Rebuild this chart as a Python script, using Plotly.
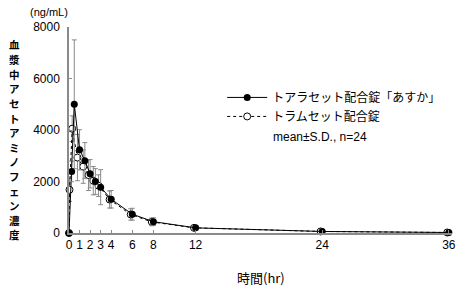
import plotly.graph_objects as go

# ---- data ----
t_asuka = [0, 0.25, 0.5, 1, 1.5, 2, 2.5, 3, 4, 6, 8, 12, 24, 36]
asuka_mean = [0, 2390, 5000, 3230, 2810, 2300, 2000, 1780, 1310, 730, 440, 200, 60, 20]
asuka_sd = [0, 400, 2500, 780, 700, 550, 500, 680, 340, 230, 150, 70, 25, 10]

t_tram = [0, 0.05, 0.3, 0.8, 1.35, 1.85, 2.3, 2.8, 3.85, 5.85, 7.85, 11.85, 23.85, 35.85]
tram_mean = [0, 1680, 4050, 2930, 2580, 2250, 2030, 1840, 1300, 720, 430, 200, 60, 20]
tram_sd = [0, 450, 500, 900, 650, 600, 550, 420, 330, 220, 150, 70, 25, 10]

x_ticks = [0, 1, 2, 3, 4, 6, 8, 12, 24, 36]
y_ticks = [0, 2000, 4000, 6000, 8000]

name_asuka = "トアラセット配合錠「あすか」"
name_tram = "トラムセット配合錠"
note = "mean±S.D., n=24"
y_title = "血漿中アセトアミノフェン濃度"
y_unit = "(ng/mL)"
x_title = "時間(hr)"

FONT = "Liberation Sans, Arial, Noto Sans CJK JP, sans-serif"
JP = "Noto Sans CJK JP, sans-serif"
GRAY = "#8a8a8a"

fig = go.Figure()

fig.add_trace(go.Scatter(
    x=t_tram, y=tram_mean, name=name_tram, mode="lines+markers",
    line=dict(color="black", width=1, dash="dot"),
    marker=dict(symbol="circle", size=7, color="white", line=dict(color="black", width=1)),
    error_y=dict(type="data", array=tram_sd, color=GRAY, thickness=1, width=2.5),
    cliponaxis=False,
))
fig.add_trace(go.Scatter(
    x=t_asuka, y=asuka_mean, name=name_asuka, mode="lines+markers",
    line=dict(color="black", width=1),
    marker=dict(symbol="circle", size=7, color="black"),
    error_y=dict(type="data", array=asuka_sd, color=GRAY, thickness=1, width=2.5),
    cliponaxis=False,
))

# vertical, upright Japanese axis title: one character per annotation
PLOT_H = 206.0
step = 14.6 / PLOT_H
top = (233 - 45) / PLOT_H
annotations = []
for i, ch in enumerate(y_title):
    annotations.append(dict(
        text="<b>" + ch + "</b>", xref="paper", yref="paper",
        x=-0.142, y=top - i * step, xanchor="center", yanchor="middle",
        showarrow=False, font=dict(family=JP, size=10.5, color="black")))

annotations += [
    dict(text=y_unit, xref="paper", yref="paper", x=-0.052, y=1.073,
         xanchor="center", yanchor="middle", showarrow=False, font=dict(size=11)),
    dict(text=x_title, xref="paper", yref="paper", x=0.5, y=-0.215,
         xanchor="center", yanchor="middle", showarrow=False,
         font=dict(family=JP, size=13)),
    dict(text=note, xref="paper", yref="paper", x=0.527, y=0.466,
         xanchor="left", yanchor="middle", showarrow=False, font=dict(size=12)),
]

fig.update_layout(
    width=468, height=294,
    margin=dict(l=69, r=13, t=27, b=61),
    paper_bgcolor="white", plot_bgcolor="white",
    font=dict(family=FONT, size=11, color="black"),
    showlegend=True,
    legend=dict(
        x=0.40, y=0.612, xanchor="left", yanchor="middle",
        traceorder="reversed", font=dict(family=JP, size=12),
        bgcolor="rgba(0,0,0,0)", itemwidth=40, tracegroupgap=0,
    ),
    xaxis=dict(
        range=[0, 36.3], tickvals=x_ticks, ticktext=[str(v) for v in x_ticks],
        showgrid=False, zeroline=False, showline=True, linecolor=GRAY, linewidth=1.5,
        ticks="inside", ticklen=3, tickcolor=GRAY, tickfont=dict(size=12),
    ),
    yaxis=dict(
        range=[0, 8000], tickvals=y_ticks, ticktext=[str(v) for v in y_ticks],
        showgrid=False, zeroline=False, showline=True, linecolor=GRAY, linewidth=1.5,
        ticks="inside", ticklen=3, tickcolor=GRAY, tickfont=dict(size=12),
        ticklabelstandoff=5,
    ),
    annotations=annotations,
)

fig.write_html("out.html")
